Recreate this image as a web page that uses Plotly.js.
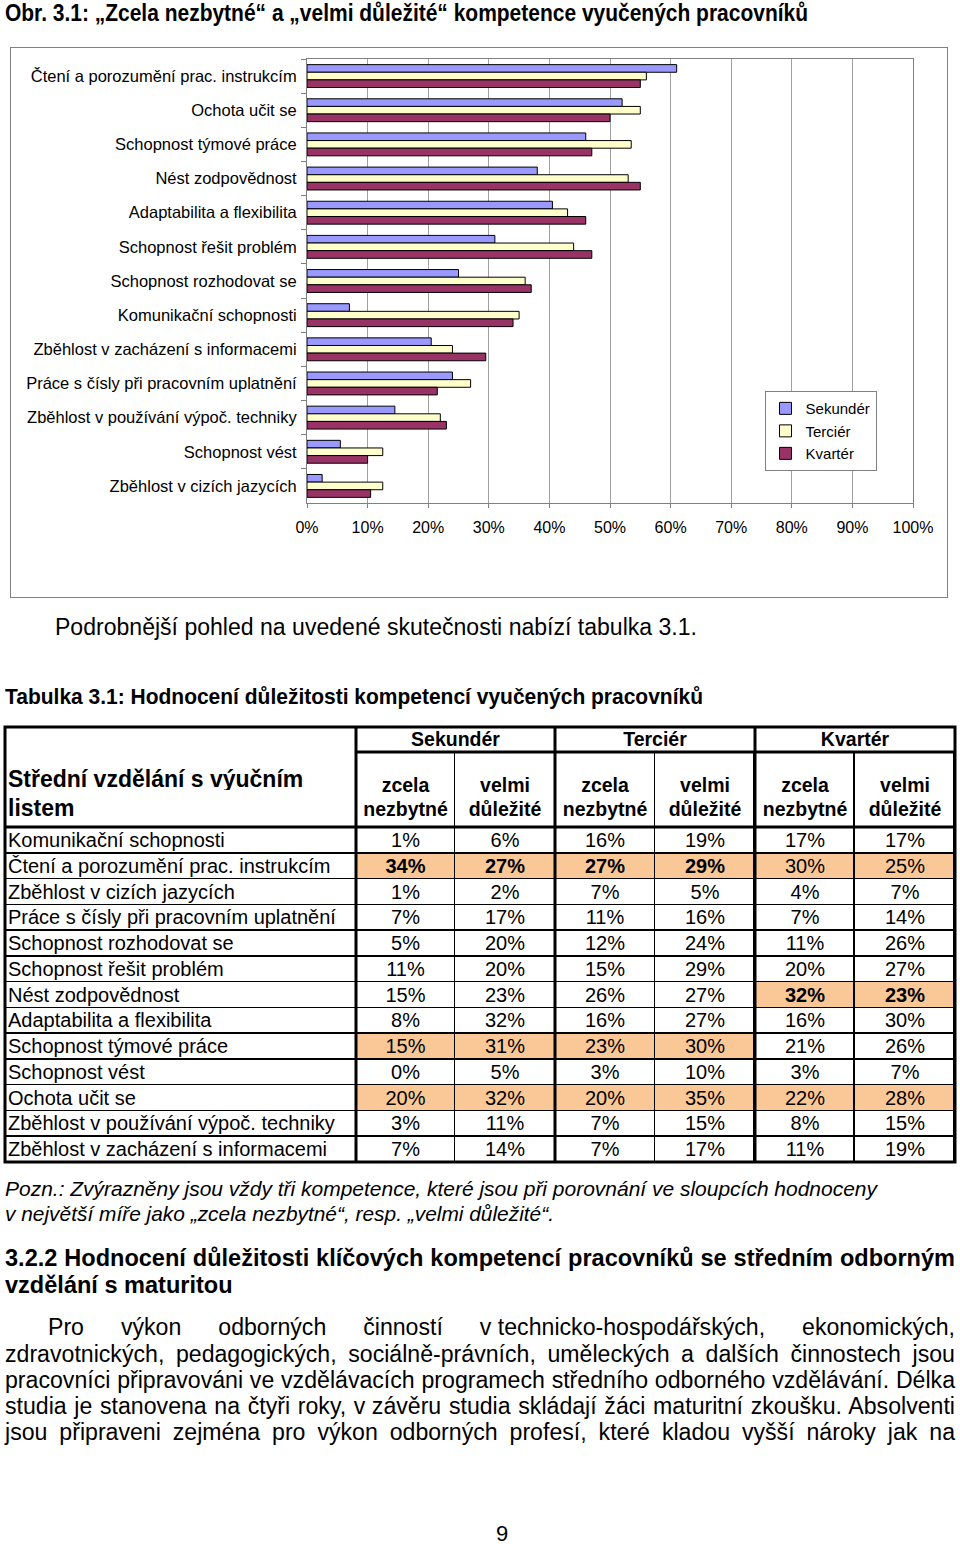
<!DOCTYPE html>
<html><head><meta charset="utf-8">
<script src="https://cdn.plot.ly/plotly-3.0.1.min.js"></script>
<style>
html,body{margin:0;padding:0;background:#fff;}
body{width:960px;height:1544px;position:relative;overflow:hidden;font-family:Arial,"Liberation Sans",sans-serif;color:#000;}
.ln{position:absolute;white-space:nowrap;transform-origin:0 0;}
#chart{position:absolute;left:10px;top:47px;width:936px;height:549px;border:1px solid #808080;}
#table,#tableLines{position:absolute;left:0;top:700px;width:960px;height:480px;}
</style></head><body>
<div id="chart"></div>
<div id="table"></div>
<div id="tableLines"></div>
<script>
// ---------- chart data (top to bottom) ----------
const chartCategories = ['Čtení a porozumění prac. instrukcím','Ochota učit se','Schopnost týmové práce','Nést zodpovědnost','Adaptabilita a flexibilita','Schopnost řešit problém','Schopnost rozhodovat se','Komunikační schopnosti','Zběhlost v zacházení s informacemi','Práce s čísly při pracovním uplatnění','Zběhlost v používání výpoč. techniky','Schopnost vést','Zběhlost v cizích jazycích'];
const seriesNames = ['Sekundér','Terciér','Kvartér'];
const sekunderTotal = [61,52,46,38,40.5,31,25,7,20.5,24,14.5,5.5,2.5];
const tercierTotal  = [56,55,53.5,53,43,44,36,35,24,27,22,12.5,12.5];
const kvarterTotal  = [55,50,47,55,46,47,37,34,29.5,21.5,23,10,10.5];
const xTickValues = [0,10,20,30,40,50,60,70,80,90,100];

// ---------- table data ----------
const tableTitle = ['Střední vzdělání s výučním','listem'];
const groupNames = ['Sekundér','Terciér','Kvartér'];
const subNames = [['zcela','nezbytné'],['velmi','důležité']];
const tableRows = ['Komunikační schopnosti','Čtení a porozumění prac. instrukcím','Zběhlost v cizích jazycích','Práce s čísly při pracovním uplatnění','Schopnost rozhodovat se','Schopnost řešit problém','Nést zodpovědnost','Adaptabilita a flexibilita','Schopnost týmové práce','Schopnost vést','Ochota učit se','Zběhlost v používání výpoč. techniky','Zběhlost v zacházení s informacemi'];
const sekZcela = [1,34,1,7,5,11,15,8,15,0,20,3,7];
const sekVelmi = [6,27,2,17,20,20,23,32,31,5,32,11,14];
const terZcela = [16,27,7,11,12,15,26,16,23,3,20,7,7];
const terVelmi = [19,29,5,16,24,29,27,27,30,10,35,15,17];
const kvaZcela = [17,30,4,7,11,20,32,16,21,3,22,8,11];
const kvaVelmi = [17,25,7,14,26,27,23,30,26,7,28,15,19];
const highlightSek = ['Čtení a porozumění prac. instrukcím','Schopnost týmové práce','Ochota učit se'];
const highlightTer = ['Čtení a porozumění prac. instrukcím','Schopnost týmové práce','Ochota učit se'];
const highlightKva = ['Čtení a porozumění prac. instrukcím','Nést zodpovědnost','Ochota učit se'];
const topSek = ['Čtení a porozumění prac. instrukcím'];
const topTer = ['Čtení a porozumění prac. instrukcím'];
const topKva = ['Nést zodpovědnost'];

// ---------- chart ----------
const FONT = 'Arial, "Liberation Sans", sans-serif';
const barColors = ['#9999FF','#FFFFCC','#993366'];
const chartTraces = [sekunderTotal, tercierTotal, kvarterTotal].map((vals, i) => ({
  type: 'bar', orientation: 'h', name: seriesNames[i],
  y: chartCategories, x: vals,
  marker: {color: barColors[i], line: {color: '#000', width: 1}},
  hoverinfo: 'skip'
}));
Plotly.newPlot('chart', chartTraces, {
  width: 936, height: 549,
  margin: {l: 296, r: 34, t: 11, b: 94, autoexpand: false},
  paper_bgcolor: '#fff', plot_bgcolor: '#fff',
  font: {family: FONT, color: '#000'},
  barmode: 'group', bargap: 0.33, bargroupgap: 0,
  showlegend: true,
  legend: {x: 0.755, y: 0.252, xanchor: 'left', yanchor: 'top', bgcolor: '#fff',
           bordercolor: '#808080', borderwidth: 1, font: {size: 15, family: FONT}, itemwidth: 30, tracegroupgap: 0},
  xaxis: {range: [0, 100], tickvals: xTickValues, ticktext: xTickValues.map(v => v + '%'),
          showgrid: true, gridcolor: '#a0a0a0', gridwidth: 1, zeroline: false,
          showline: true, linecolor: '#808080', linewidth: 1, mirror: true,
          ticks: 'outside', ticklen: 4, tickcolor: '#808080', ticklabelstandoff: 6,
          tickfont: {size: 16, family: FONT, color: '#000'}, fixedrange: true},
  yaxis: {type: 'category', autorange: 'reversed', tickson: 'boundaries',
          ticks: 'outside', ticklen: 5, tickcolor: '#808080', showgrid: false,
          showline: true, linecolor: '#808080', linewidth: 1, mirror: true, ticklabelstandoff: 6,
          tickfont: {size: 16.5, family: FONT, color: '#000'}, fixedrange: true}
}, {staticPlot: true});

// ---------- table ----------
const TBL = {divTop: 700, divH: 480, divW: 960, left: 5, top: 727, groupTop: 752, headTop: 752, bodyTop: 827, rowH: 25.77,
             textShiftX: 5, textShiftY: 3};
const colWidths = [351, 99, 100, 100, 100, 100, 100];
const xp = px => px / TBL.divW;
const yp = py => 1 - (py - TBL.divTop) / TBL.divH;
const edges = [TBL.left];
colWidths.forEach(w => edges.push(edges[edges.length - 1] + w));
const right = edges[edges.length - 1];
const bottom = TBL.bodyTop + tableRows.length * TBL.rowH;
const ORANGE = '#FAC896';
const groupData = [[sekZcela, sekVelmi, highlightSek, topSek], [terZcela, terVelmi, highlightTer, topTer], [kvaZcela, kvaVelmi, highlightKva, topKva]];

const cellValues = [tableRows];
const cellFill = [tableRows.map(() => '#fff')];
const cellWeight = [tableRows.map(() => 'normal')];
groupData.forEach(([a, b, hi, top]) => {
  [a, b].forEach(col => {
    cellValues.push(col.map(v => v + '%'));
    cellFill.push(tableRows.map(r => hi.includes(r) ? ORANGE : '#fff'));
    cellWeight.push(tableRows.map(r => top.includes(r) ? 'bold' : 'normal'));
  });
});
const groupWidths = [colWidths[1] + colWidths[2], colWidths[3] + colWidths[4], colWidths[5] + colWidths[6]];
const white = '#fff', clear = 'rgba(0,0,0,0)';
const textColWidths = colWidths.map((w, i) => i === 0 ? w + TBL.textShiftX : w);
const subHeaderVals = [];
groupNames.forEach(() => subNames.forEach(s => subHeaderVals.push(s)));

// group header text (Sekundér / Terciér / Kvartér)
const tGroups = {
  type: 'table', columnwidth: groupWidths,
  domain: {x: [xp(edges[1]), xp(right)], y: [yp(1175), yp(723)]},
  header: {values: groupNames, height: 25, align: 'center', fill: {color: white}, line: {color: white, width: 1},
           font: {family: FONT, size: 19.5, weight: 'bold', color: '#000'}},
  cells: {values: groupNames.map(() => ['']), height: 20, fill: {color: white}, line: {color: white, width: 1}}
};
// first column title (spans both header rows)
const tTitle = {
  type: 'table', columnwidth: [colWidths[0] + TBL.textShiftX],
  domain: {x: [xp(edges[0] - TBL.textShiftX), xp(edges[1])], y: [yp(1175), yp(761.5)]},
  header: {values: [tableTitle.map(t => t)], height: 29, align: 'left', fill: {color: white}, line: {color: white, width: 1},
           font: {family: FONT, size: 23, weight: 'bold', color: '#000'}},
  cells: {values: [['']], height: 20, fill: {color: white}, line: {color: white, width: 1}}
};
// sub headers (zcela nezbytné / velmi důležité)
const tSub = {
  type: 'table', columnwidth: colWidths.slice(1),
  domain: {x: [xp(edges[1]), xp(right)], y: [yp(1175), yp(769)]},
  header: {values: subHeaderVals, height: 24.5, align: 'center', fill: {color: white}, line: {color: white, width: 1},
           font: {family: FONT, size: 19.5, weight: 'bold', color: '#000'}},
  cells: {values: subHeaderVals.map(() => ['']), height: 20, fill: {color: white}, line: {color: white, width: 1}}
};
// cell fills and thin grid
const tFill = {
  type: 'table', columnwidth: colWidths,
  domain: {x: [xp(edges[0]), xp(right)], y: [yp(1175), yp(TBL.headTop)]},
  header: {values: colWidths.map(() => ''), height: TBL.bodyTop - TBL.headTop, fill: {color: clear},
           line: {color: colWidths.map((w, i) => i === 0 ? clear : '#000'), width: 1.5}},
  cells: {values: colWidths.map(() => tableRows.map(() => '')), height: TBL.rowH,
          fill: {color: cellFill}, line: {color: '#000', width: 1.5}}
};
// cell texts
const tText = {
  type: 'table', columnwidth: textColWidths,
  domain: {x: [xp(edges[0] - TBL.textShiftX), xp(right)], y: [yp(1175), yp(TBL.headTop - TBL.textShiftY)]},
  header: {values: colWidths.map(() => ''), height: TBL.bodyTop - TBL.headTop, fill: {color: clear}, line: {color: clear, width: 0}},
  cells: {values: cellValues, height: TBL.rowH, align: colWidths.map((w, i) => i === 0 ? 'left' : 'center'),
          fill: {color: clear}, line: {color: clear, width: 0},
          font: {family: FONT, size: 20, color: '#000', weight: cellWeight}}
};
Plotly.newPlot('table', [tGroups, tTitle, tSub, tFill, tText], {
  width: TBL.divW, height: TBL.divH, margin: {l: 0, r: 0, t: 0, b: 0},
  paper_bgcolor: clear
}, {staticPlot: true});

// thick separators of the table
const thick = {color: '#000', width: 3};
const lineShapes = [
  {type: 'rect', x0: xp(edges[0]), x1: xp(right), y0: yp(TBL.top), y1: yp(bottom), line: thick},
  ...[1, 3, 5].map(i => ({type: 'line', x0: xp(edges[i]), x1: xp(edges[i]), y0: yp(TBL.top), y1: yp(bottom), line: thick})),
  {type: 'line', x0: xp(edges[1]), x1: xp(right), y0: yp(TBL.groupTop), y1: yp(TBL.groupTop), line: thick},
  {type: 'line', x0: xp(edges[0]), x1: xp(right), y0: yp(TBL.bodyTop), y1: yp(TBL.bodyTop), line: thick}
].map(s => Object.assign({xref: 'paper', yref: 'paper'}, s));
Plotly.newPlot('tableLines', [], {
  width: TBL.divW, height: TBL.divH, margin: {l: 0, r: 0, t: 0, b: 0},
  paper_bgcolor: clear, plot_bgcolor: clear,
  xaxis: {visible: false}, yaxis: {visible: false}, shapes: lineShapes
}, {staticPlot: true});

// ---------- page text ----------
function makeLine(html, o) {
  const d = document.createElement('div');
  d.className = 'ln';
  d.innerHTML = html;
  const lh = o.lh || o.size;
  d.style.fontSize = o.size + 'px';
  d.style.lineHeight = lh + 'px';
  if (o.bold) d.style.fontWeight = 'bold';
  if (o.italic) d.style.fontStyle = 'italic';
  d.style.left = o.left + 'px';
  d.style.top = (o.base - ((lh - 1.117 * o.size) / 2 + 0.905 * o.size)) + 'px';
  document.body.appendChild(d);
  d._w = d.getBoundingClientRect().width;
  d._o = o;
  return d;
}
function applyScale(d, s, justify) {
  const target = d._o.right - d._o.left;
  d.style.transform = 'scaleX(' + s + ')';
  if (justify) {
    d.style.whiteSpace = 'normal';
    d.style.width = (target / s) + 'px';
    d.style.textAlign = 'justify';
    d.style.textAlignLast = 'justify';
  }
}
function fitLine(html, o) {
  const d = makeLine(html, o);
  applyScale(d, (o.right - o.left) / d._w, false);
  return d;
}
function fitBlock(lines, opts, justifyFlags) {
  const ds = lines.map(l => makeLine(l.html, Object.assign({}, opts, l)));
  const s = 0.997 * Math.min(...ds.map(d => (d._o.right - d._o.left) / d._w));
  ds.forEach((d, i) => applyScale(d, s, justifyFlags[i]));
}

fitLine('Obr. 3.1: „Zcela nezbytné“ a „velmi důležité“ kompetence vyučených pracovníků', {bold: true, size: 23, left: 5, right: 808, base: 21});
fitLine('Podrobnější pohled na uvedené skutečnosti nabízí tabulka 3.1.', {size: 23, left: 55, right: 697, base: 635});
fitLine('Tabulka 3.1: Hodnocení důležitosti kompetencí vyučených pracovníků', {bold: true, size: 22, left: 5, right: 703, base: 705});
fitLine('Pozn.: Zvýrazněny jsou vždy tři kompetence, které jsou při porovnání ve sloupcích hodnoceny', {italic: true, size: 21, left: 5, right: 877, base: 1196});
fitLine('v největší míře jako „zcela nezbytné“, resp. „velmi důležité“.', {italic: true, size: 21, left: 5, right: 554, base: 1221});
fitBlock([
  {html: '3.2.2 Hodnocení důležitosti klíčových kompetencí pracovníků se středním odborným', left: 5, right: 955, base: 1266},
  {html: 'vzdělání s maturitou', left: 5, right: 247, base: 1293}
], {bold: true, size: 23}, [true, false]);
fitBlock([
  {html: 'Pro výkon odborných činností <span style="display:inline-block">v technicko-hospodářských,</span> ekonomických,', left: 48, right: 955, base: 1335},
  {html: 'zdravotnických, pedagogických, sociálně-právních, uměleckých a dalších činnostech jsou', left: 5, right: 955, base: 1362},
  {html: 'pracovníci připravováni ve vzdělávacích programech středního odborného vzdělávání. Délka', left: 5, right: 955, base: 1388},
  {html: 'studia je stanovena na čtyři roky, <span style="display:inline-block">v závěru</span> studia skládají žáci maturitní zkoušku. Absolventi', left: 5, right: 955, base: 1414},
  {html: 'jsou připraveni zejména pro výkon odborných profesí, které kladou vyšší nároky jak na', left: 5, right: 955, base: 1440}
], {size: 23}, [true, true, true, true, true]);
const pg = makeLine('9', {size: 22, lh: 16, left: 0, base: 1542, right: 0});
pg.style.left = (502 - pg._w / 2) + 'px';
</script>
</body></html>
